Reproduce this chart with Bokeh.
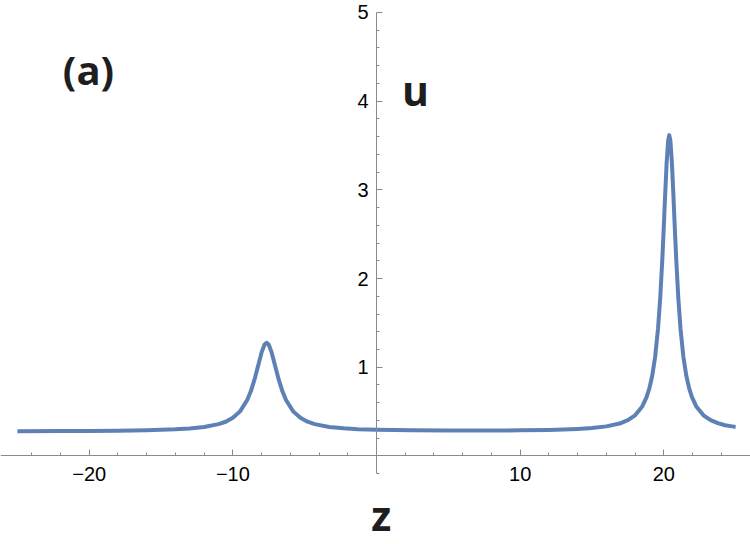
from bokeh.plotting import figure
from bokeh.models import LinearAxis, FixedTicker, Range1d, Label
from bokeh.embed import file_html
from bokeh.resources import INLINE

# ---- data ----
z = [-25, -22, -20, -18, -16, -14, -13, -12, -11, -10.5, -10, -9.5, -9, -8.75,
     -8.5, -8.25, -8, -7.8, -7.65, -7.5, -7.3, -7.05, -6.8, -6.55, -6.3, -5.8,
     -5.3, -4.8, -4.3, -3.3, -2.3, -1.3, 0, 2.5, 5, 7.5, 10, 12, 13, 14, 15, 16,
     17, 17.5, 18, 18.5, 18.8, 19.0, 19.2, 19.4, 19.6, 19.75, 19.9, 20.0, 20.1,
     20.2, 20.3, 20.38, 20.46, 20.56, 20.66, 20.76, 20.86, 21.01, 21.16, 21.36,
     21.56, 21.76, 21.96, 22.26, 22.76, 23.26, 23.76, 24.26, 24.76, 25]
u = [0.279, 0.280, 0.282, 0.285, 0.290, 0.300, 0.309, 0.326, 0.358, 0.385,
     0.429, 0.502, 0.630, 0.728, 0.857, 1.011, 1.167, 1.254, 1.276, 1.254,
     1.167, 1.011, 0.857, 0.728, 0.630, 0.502, 0.429, 0.386, 0.358, 0.326,
     0.311, 0.301, 0.294, 0.288, 0.286, 0.286, 0.288, 0.293, 0.297, 0.304,
     0.314, 0.333, 0.369, 0.403, 0.458, 0.558, 0.662, 0.764, 0.909, 1.121,
     1.440, 1.780, 2.231, 2.590, 2.968, 3.314, 3.553, 3.617, 3.553, 3.314,
     2.968, 2.590, 2.231, 1.780, 1.440, 1.121, 0.909, 0.764, 0.662, 0.558,
     0.458, 0.403, 0.369, 0.346, 0.333, 0.327]

x_major = [-20, -10, 10, 20]
x_major_labels = ["\u221220", "\u221210", "10", "20"]
x_minor = [-24, -22, -18, -16, -14, -12, -8, -6, -4, -2,
           2, 4, 6, 8, 12, 14, 16, 18, 22, 24]
y_major = [1, 2, 3, 4, 5]
y_major_labels = ["1", "2", "3", "4", "5"]
y_minor = [-0.2, 0.2, 0.4, 0.6, 0.8, 1.2, 1.4, 1.6, 1.8, 2.2, 2.4, 2.6, 2.8,
           3.2, 3.4, 3.6, 3.8, 4.2, 4.4, 4.6, 4.8]

panel_label = "(a)"
y_title = "u"
x_title = "z"

AXIS_COLOR = "#8a8a8a"
LINE_COLOR = "#5E81B5"
TEXT_COLOR = "#1e1e1e"

p = figure(width=750, height=544,
           x_range=Range1d(-26.175, 26.035), y_range=Range1d(-0.999, 5.135),
           output_backend="svg", toolbar_location=None,
           x_axis_type=None, y_axis_type=None, min_border=0)
p.outline_line_color = None
p.background_fill_color = "white"
p.border_fill_color = "white"

xa = LinearAxis(ticker=FixedTicker(ticks=x_major, minor_ticks=x_minor),
                fixed_location=0)
xa.major_label_overrides = {k: v for k, v in zip(x_major, x_major_labels)}
xa.major_tick_in = 6
xa.major_tick_out = 0
xa.minor_tick_in = 3
xa.minor_tick_out = 0
xa.axis_line_color = AXIS_COLOR
xa.major_tick_line_color = AXIS_COLOR
xa.minor_tick_line_color = AXIS_COLOR
xa.major_label_text_font = "Liberation Sans"
xa.major_label_text_font_size = "20px"
xa.major_label_text_color = "black"
xa.major_label_standoff = 11
p.add_layout(xa, "below")

ya = LinearAxis(ticker=FixedTicker(ticks=y_major, minor_ticks=y_minor),
                fixed_location=0, bounds=(-0.2, 5))
ya.major_label_overrides = {k: v for k, v in zip(y_major, y_major_labels)}
ya.major_tick_in = 6
ya.major_tick_out = 0
ya.minor_tick_in = 3
ya.minor_tick_out = 0
ya.axis_line_color = AXIS_COLOR
ya.major_tick_line_color = AXIS_COLOR
ya.minor_tick_line_color = AXIS_COLOR
ya.major_label_text_font = "Liberation Sans"
ya.major_label_text_font_size = "20px"
ya.major_label_text_color = "black"
ya.major_label_standoff = 8
ya.major_label_orientation = "horizontal"
p.add_layout(ya, "left")

p.line(z, u, line_color=LINE_COLOR, line_width=4, line_join="round")

p.add_layout(Label(x=-20.05, y=4.357, text=panel_label, text_font="Open Sans",
                   text_font_style="bold", text_font_size="40px",
                   text_align="center", text_baseline="alphabetic",
                   text_color=TEXT_COLOR))
p.add_layout(Label(x=2.71, y=4.131, text=y_title, text_font="Open Sans",
                   text_font_style="bold", text_font_size="41px",
                   text_align="center", text_baseline="alphabetic",
                   text_color=TEXT_COLOR))
p.add_layout(Label(x=0.33, y=-0.661, text=x_title, text_font="Open Sans",
                   text_font_style="bold", text_font_size="41px",
                   text_align="center", text_baseline="alphabetic",
                   text_color=TEXT_COLOR))

open("out.html", "w").write(file_html(p, INLINE))
